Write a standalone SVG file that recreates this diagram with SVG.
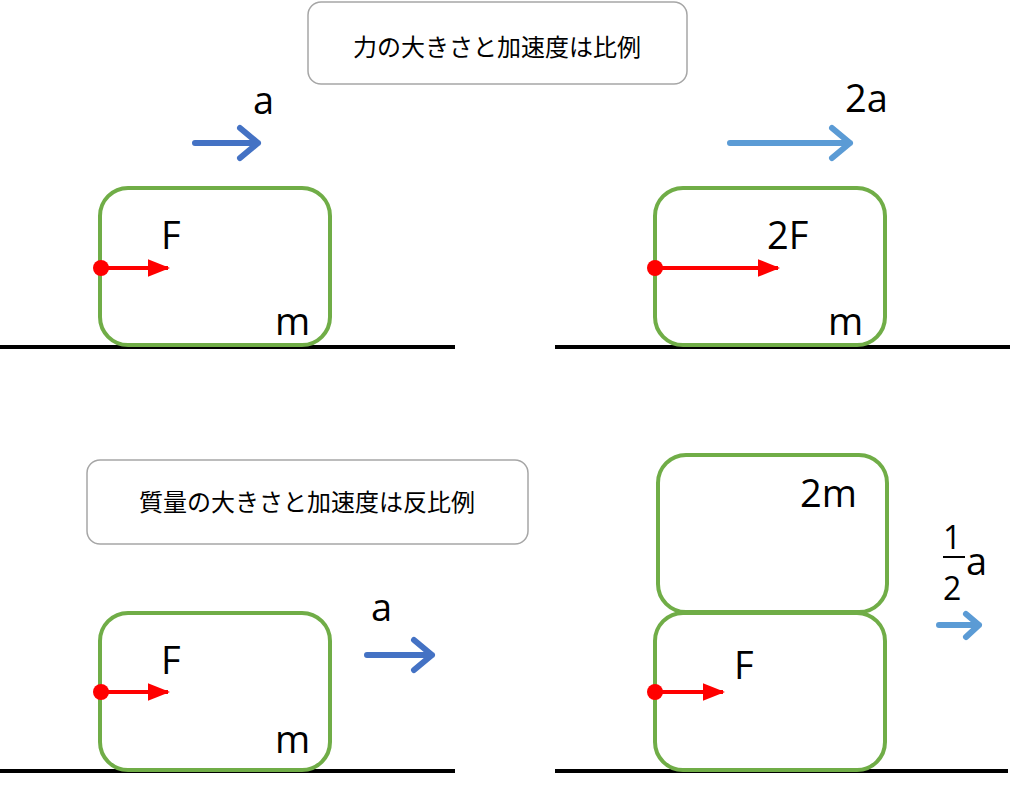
<svg xmlns="http://www.w3.org/2000/svg" width="1024" height="797" viewBox="0 0 1024 797">
<style>
.box{fill:none;stroke:#70AD47;stroke-width:4}
.lbl{fill:#fff;stroke:#A6A6A6;stroke-width:1.5}
.g{stroke:#000;stroke-width:4}
.f{stroke:#f00;stroke-width:4}
.t{font-family:"Open Sans","Liberation Sans",sans-serif;font-size:38px;fill:#000}
.s{font-family:"Open Sans","Liberation Sans",sans-serif;font-size:32px;fill:#000}
.j{font-family:"Noto Sans CJK JP",sans-serif;font-size:24px;fill:#000;text-anchor:middle}
.b1{stroke:#4472C4;stroke-width:6;fill:none;stroke-linecap:round;stroke-linejoin:round}
.b2{stroke:#5B9BD5;stroke-width:6;fill:none;stroke-linecap:round;stroke-linejoin:round}
</style>
<defs><marker id="ah" markerWidth="6" markerHeight="6" refX="5" refY="3" orient="auto" markerUnits="strokeWidth"><path d="M0,0.8L5.5,3L0,5.2z" fill="#f00"/></marker></defs>
<g id="title1"><rect class="lbl" x="308" y="2" width="379" height="82" rx="13"/><text class="j" x="497" y="56">力の大きさと加速度は比例</text></g>
<g id="title2"><rect class="lbl" x="87" y="460" width="441" height="84" rx="13"/><text class="j" x="307" y="511">質量の大きさと加速度は反比例</text></g>
<g id="ground"><line class="g" x1="0" y1="347" x2="455" y2="347"/><line class="g" x1="555" y1="347" x2="1010" y2="347"/><line class="g" x1="0" y1="771" x2="455" y2="771"/><line class="g" x1="555" y1="771" x2="1008" y2="771"/></g>
<g id="box1"><rect class="box" x="100" y="188" width="230" height="157" rx="28"/><text class="t" x="275" y="335">m</text><text class="t" x="161" y="249">F</text></g>
<g id="box2"><rect class="box" x="655" y="188" width="230" height="157" rx="28"/><text class="t" x="828" y="335">m</text><text class="t" x="767" y="249">2F</text></g>
<g id="box3"><rect class="box" x="100" y="613" width="230" height="157" rx="28"/><text class="t" x="275" y="753">m</text><text class="t" x="161" y="674">F</text></g>
<g id="box4"><rect class="box" x="658" y="455" width="229" height="157" rx="28"/><text class="t" x="800" y="507">2m</text></g>
<g id="box5"><rect class="box" x="655" y="613" width="230" height="157" rx="28"/><text class="t" x="734" y="679">F</text></g>
<g id="accel">
<text class="t" x="253" y="114">a</text>
<text class="t" x="845" y="112">2a</text>
<text class="t" x="371" y="621">a</text>
<text class="s" x="943" y="549">1</text>
<line x1="943" y1="557" x2="965" y2="557" stroke="#000" stroke-width="2"/>
<text class="s" x="943" y="600">2</text>
<text class="t" x="966" y="575">a</text>
</g>
<g id="connectors">
<path class="b1" d="M195,143H258M240,128L258,143L240,158"/>
<path class="b2" d="M730,143H850M832,128L850,143L832,158"/>
<path class="b1" d="M367,655H432M414,640L432,655L414,670"/>
<path class="b2" d="M939,625H979M966,614L979,625L966,637"/>
<line class="f" x1="101" y1="268" x2="168" y2="268" marker-end="url(#ah)"/><circle cx="101" cy="268" r="8" fill="#f00"/>
<line class="f" x1="655" y1="268" x2="778" y2="268" marker-end="url(#ah)"/><circle cx="655" cy="268" r="8" fill="#f00"/>
<line class="f" x1="101" y1="692" x2="168" y2="692" marker-end="url(#ah)"/><circle cx="101" cy="692" r="8" fill="#f00"/>
<line class="f" x1="655" y1="692" x2="723" y2="692" marker-end="url(#ah)"/><circle cx="655" cy="692" r="8" fill="#f00"/>
</g>
</svg>
